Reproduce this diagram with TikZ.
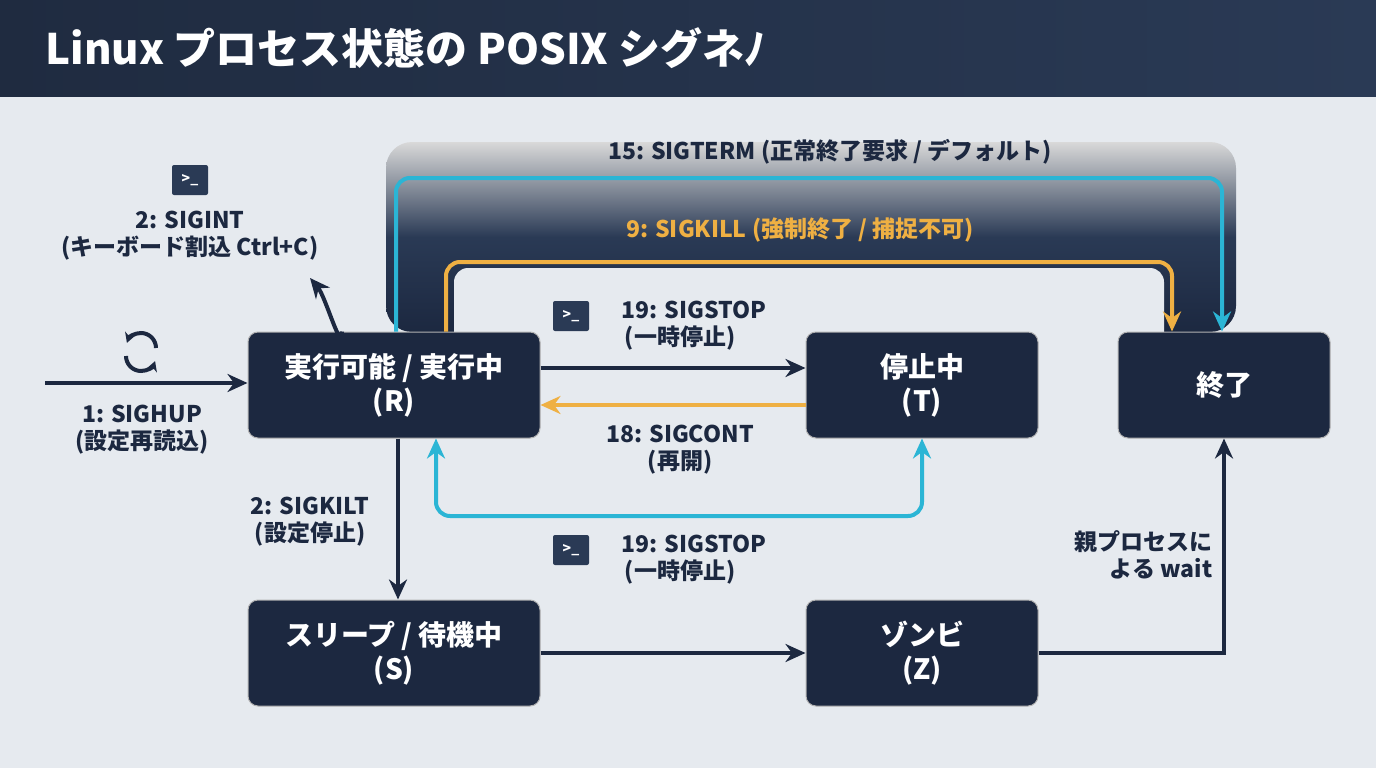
\documentclass[tikz,border=0pt]{standalone}
\usepackage{fontspec}
\setmainfont{Noto Sans CJK JP}
\usetikzlibrary{arrows.meta,positioning,calc}
\definecolor{bgpage}{HTML}{E6EAEF}
\definecolor{navy}{HTML}{1C2840}
\definecolor{titlebar}{HTML}{1F2B40}
\definecolor{cyanarr}{HTML}{2BB5D5}
\definecolor{orangearr}{HTML}{EFB043}
\definecolor{darkarr}{HTML}{2A3A55}
\tikzset{
  arr/.style   = {-{Stealth[length=20pt,width=18pt]}, line width=4pt},
  state/.style = {draw=gray!60, line width=1pt, fill=navy, rounded corners=10pt,
                  text=white, font=\fontsize{28}{34}\selectfont\bfseries,
                  align=center, minimum height=106pt},
  lbl/.style   = {text=navy, font=\fontsize{23}{27}\selectfont\bfseries, align=center},
  icon/.style  = {fill=darkarr, rounded corners=2pt, text=white, minimum width=36pt,
                  minimum height=30pt, inner sep=0pt, font=\fontsize{14}{14}\selectfont\bfseries},
}
\begin{document}
\begin{tikzpicture}[x=1pt,y=-1pt]
\useasboundingbox (0,0) rectangle (1376,768);
\fill[bgpage] (0,0) rectangle (1376,768);
\shade[left color=titlebar, right color=darkarr] (0,0) rectangle (1376,96);
\node[anchor=west,text=white,font=\fontsize{42}{48}\selectfont\bfseries] (title) at (42,48) {Linux プロセス状態の POSIX シグネﾉ};
% dark frame behind the upper arrows
\shade[top color=gray!30, bottom color=navy, middle color=darkarr, rounded corners=26pt]
  (386,332) |- (1236,142) -- (1236,332) -- cycle;
\fill[bgpage] (454,333) [rounded corners=14pt] |- (1164,268) [sharp corners] -- (1164,333) -- cycle;
% states
\node[state, minimum width=292pt] (R) at (394,385) {実行可能 / 実行中\\(R)};
\node[state, minimum width=232pt] (T) at (922,385) {停止中\\(T)};
\node[state, minimum width=212pt] (E) at (1224,385) {終了};
\node[state, minimum width=292pt] (S) at (394,653) {スリープ / 待機中\\(S)};
\node[state, minimum width=232pt] (Z) at (922,653) {ゾンビ\\(Z)};
\coordinate (in) at (45,383);
% SIGTERM and SIGKILL
\draw[arr, cyanarr, rounded corners=14pt] ($(R.north)+(2,0)$) |- (800,178) -| ($(E.north)+(-2,0)$);
\draw[arr, orangearr, rounded corners=14pt] ($(R.north)+(52,0)$) |- (800,262) -| ($(E.north)+(-52,0)$);
\node[lbl] (kterm) at (830,152) {15: SIGTERM (正常終了要求 / デフォルト)};
\node[lbl, text=orangearr] (kkill) at (800,230) {9: SIGKILL (強制終了 / 捕捉不可)};
% R <-> T
\draw[arr, navy] (R.east |- 0,368) -- (T.west |- 0,368);
\draw[arr, orangearr] (T.west |- 0,405) -- (R.east |- 0,405);
\node[lbl] (kstop) at (680,326) {\phantom{xx}19: SIGSTOP\\(一時停止)};
\node[icon] (i1) at (571,316) {>\_};
\node[lbl] (kcont) at (680,450) {18: SIGCONT\\(再開)};
\draw[{Stealth[length=20pt,width=18pt]}-{Stealth[length=20pt,width=18pt]}, line width=4pt, cyanarr, rounded corners=14pt]
  ($(R.south)+(42,0)$) |- (680,516) -| (T.south);
\node[lbl] (kstop2) at (680,560) {\phantom{xx}19: SIGSTOP\\(一時停止)};
\node[icon] (i2) at (571,550) {>\_};
% R -> S, S -> Z, Z -> E
\draw[arr, navy] ($(R.south)+(4,0)$) -- ($(S.north)+(4,0)$);
\node[lbl] (kkilt) at (310,522) {2: SIGKILT\\(設定停止)};
\draw[arr, navy] (S) -- (Z);
\draw[arr, navy] (Z.east) -| (E.south);
\node[lbl, align=right, anchor=east] (kwait) at (1216,555) {親プロセスに\\よる wait};
% SIGHUP
\draw[arr, navy] (in) -- (R.west |- in);
\node[lbl] (khup) at (142,430) {1: SIGHUP\\(設定再読込)};
\draw[line width=4pt, navy, -{Stealth[length=10pt,width=11pt]}] (156,348) arc (0:-160:15);
\draw[line width=4pt, navy, -{Stealth[length=10pt,width=11pt]}] (126,356) arc (180:20:15);
% SIGINT
\draw[arr, navy] ($(R.north)+(-52,0)$) to[out=-90,in=-50] (310,278);
\node[lbl] (kint) at (190,236) {2: SIGINT\\(キーボード割込 Ctrl+C)};
\node[icon] (i3) at (190,180) {>\_};
\end{tikzpicture}
\end{document}
